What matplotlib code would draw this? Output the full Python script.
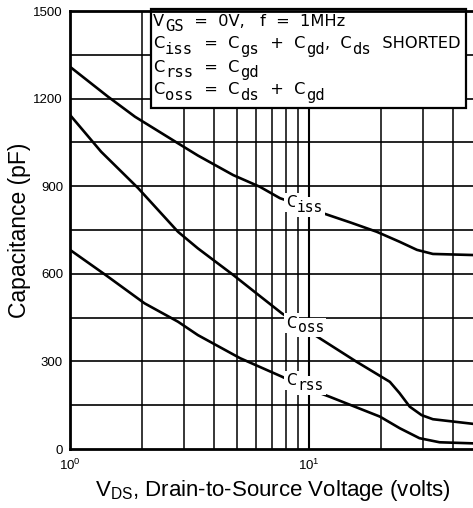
import matplotlib
matplotlib.use("Agg")
import matplotlib.pyplot as plt
from matplotlib.patches import Rectangle
from matplotlib.ticker import NullLocator

# ---- data ----
ciss_v = [1, 1.44, 1.87, 2.83, 3.43, 4.82, 6.23, 7.56, 9.2, 11.3, 15.0, 19.2, 23.9, 28.3, 33, 50]
ciss_c = [1309, 1207, 1138, 1047, 1005, 938, 898, 859, 835, 809, 775, 744, 710, 682, 668, 664]

coss_v = [1, 1.35, 1.93, 2.83, 3.43, 4.82, 6.03, 7.69, 9.3, 11.1, 15.8, 21.8, 23.9, 26.4, 29.6, 33, 50]
coss_c = [1144, 1018, 893, 744, 687, 596, 533, 465, 420, 379, 299, 230, 192, 145, 116, 102, 85]

crss_v = [1, 1.42, 2.05, 2.83, 3.43, 5.15, 7.69, 9.5, 12.2, 19.8, 24, 29, 35.2, 50]
crss_c = [682, 594, 499, 436, 390, 311, 248, 212, 179, 111, 71, 37, 23, 19]

y_ticks = [0, 300, 600, 900, 1200, 1500]
x_ticks = [1, 10]
x_tick_labels = [r"$\mathregular{10^0}$", r"$\mathregular{10^1}$"]
v_grid = [2, 3, 4, 5, 6, 7, 8, 9, 10, 20, 30, 40]
h_grid = [150, 300, 450, 600, 750, 900, 1050, 1200, 1350]

# curve labels: (main, subscript), position (V, pF)
curve_labels = [("C", "iss"), ("C", "oss"), ("C", "rss")]
label_pos = [(8.0, 830), (8.05, 416), (8.05, 218)]

# annotation box lines: pieces of (text, is_subscript)
box_lines = [
    [("V", 0), ("GS", 1), ("  =  0V,   f  =  1MHz", 0)],
    [("C", 0), ("iss", 1), ("  =  C", 0), ("gs", 1), ("  +  C", 0), ("gd", 1),
     (",  C", 0), ("ds", 1), ("  SHORTED", 0)],
    [("C", 0), ("rss", 1), ("  =  C", 0), ("gd", 1)],
    [("C", 0), ("oss", 1), ("  =  C", 0), ("ds", 1), ("  +  C", 0), ("gd", 1)],
]

W, H = 473, 508
fig = plt.figure(figsize=(W / 100, H / 100), dpi=100)
ax = fig.add_axes([70 / W, 1 - 449 / H, 406 / W, 438 / H])
ax.set_xscale("log")
ax.set_xlim(1, 50)
ax.set_ylim(0, 1500)

for v in v_grid:
    ax.axvline(v, color="black", lw=1.5 if v == 10 else 1.1, zorder=1)
for h in h_grid:
    ax.axhline(h, color="black", lw=1.2, zorder=1)

for xs, ys in [(ciss_v, ciss_c), (coss_v, coss_c), (crss_v, crss_c)]:
    ax.plot(xs, ys, color="black", lw=1.9, zorder=3)

MAIN = "DejaVu Sans"
SUB = "DejaVu Sans Mono"


def lettered(x, y, pieces, fs, sub_fs, drop, transform, zorder, bbox=None):
    first_txt, first_sub = pieces[0]
    prev = ax.text(x, y, first_txt, fontsize=sub_fs if first_sub else fs,
                   family=SUB if first_sub else MAIN, ha="left", va="baseline",
                   transform=transform, zorder=zorder, bbox=bbox)
    prev_sub = first_sub
    for txt, is_sub in pieces[1:]:
        dy = 0
        if is_sub and not prev_sub:
            dy = -drop
        elif (not is_sub) and prev_sub:
            dy = drop
        prev = ax.annotate(txt, xy=(1, 0), xycoords=prev, xytext=(0.5, dy),
                           textcoords="offset points", ha="left", va="bottom",
                           fontsize=sub_fs if is_sub else fs,
                           family=SUB if is_sub else MAIN,
                           zorder=zorder, bbox=bbox, annotation_clip=False)
        prev_sub = is_sub


white = dict(facecolor="white", edgecolor="none", pad=1.5)
for (m, s), (lx, ly) in zip(curve_labels, label_pos):
    lettered(lx, ly, [(m, 0), (s, 1)], 11, 10.5, 3.5, ax.transData, 4, bbox=white)

# annotation box
bx0 = (151 - 70) / 406
bx1 = (466 - 70) / 406
by0 = (449 - 108) / 438
rect = Rectangle((bx0, by0), bx1 - bx0, 1.005 - by0, transform=ax.transAxes,
                 facecolor="white", edgecolor="black", lw=1.6, zorder=5, clip_on=False)
ax.add_patch(rect)
baselines_px = [25.5, 48.5, 71.5, 94.5]
for pieces, bpx in zip(box_lines, baselines_px):
    yfrac = (449 - bpx) / 438
    lettered((153 - 70) / 406, yfrac, pieces, 11.7, 11.2, 4.0, ax.transAxes, 6)

for s in ax.spines.values():
    s.set_linewidth(2.0)
    s.set_zorder(7)

tick_font = ["Liberation Sans Narrow", "Liberation Sans"]
ax.set_yticks(y_ticks)
ax.set_yticklabels([str(v) for v in y_ticks], fontsize=9.5, family=tick_font)
ax.set_xticks(x_ticks)
ax.set_xticklabels(x_tick_labels, fontsize=9.5, family=tick_font)
ax.xaxis.set_minor_locator(NullLocator())
ax.tick_params(axis="y", length=0, pad=5)
ax.tick_params(axis="x", length=0, pad=6)

ax.set_xlabel("V$_{\\mathregular{DS}}$, Drain-to-Source Voltage (volts)", fontsize=16,
              family="Liberation Sans", labelpad=4)
ax.set_ylabel("Capacitance (pF)", fontsize=16.5, family="Liberation Sans", labelpad=2)

fig.savefig("out.png", dpi=100)
